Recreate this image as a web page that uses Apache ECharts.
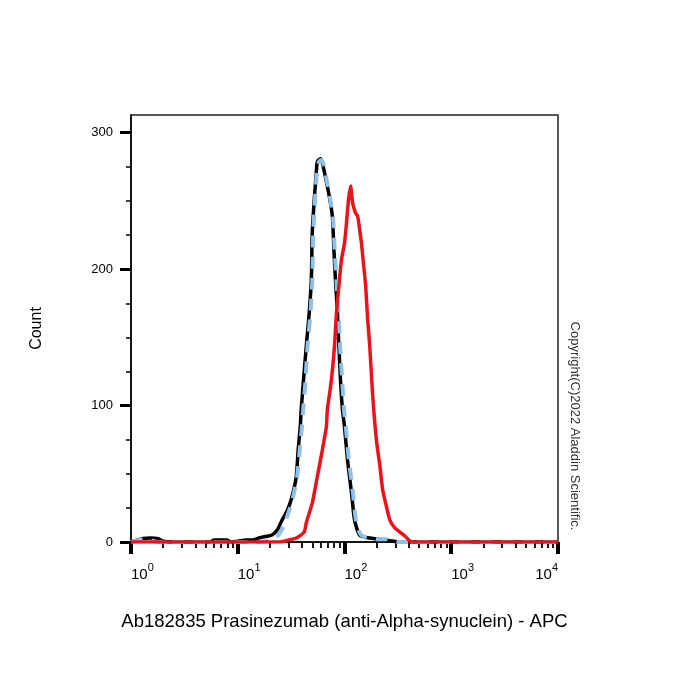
<!DOCTYPE html>
<html>
<head>
<meta charset="utf-8">
<script src="https://cdn.jsdelivr.net/npm/echarts@6/dist/echarts.min.js"></script>
<style>
  html, body { margin: 0; padding: 0; background: #fff; }
  #chart { width: 700px; height: 700px; }
</style>
</head>
<body>
<div id="chart"></div>
<script>
  // histogram curves: [fluorescence, count]
  const blackCurve = [
    [1, 0], [1.1, 1], [1.3, 2.5], [1.5, 3], [1.8, 2.5], [2.0, 0.5], [2.5, 0], [5.5, 0], [6, 1.5], [8, 1.5], [8.5, 0],
    [10, 0.5], [12, 1.5], [14, 1.5], [15.8, 2.9], [18, 4], [20.9, 5.1], [23.5, 9], [26, 16.1], [29, 23], [31.6, 30.8],
    [35.3, 47.7], [36.8, 67.5], [38.5, 84.4], [39.3, 96.8], [41.1, 116.6], [43.8, 143], [46.7, 168], [48.9, 192],
    [49.9, 226.7], [52.1, 250.9], [54.4, 270.7], [55.6, 278.8], [59.4, 281], [62, 278], [66.2, 267.7], [72.2, 253],
    [77, 238.5], [79.6, 214], [82.3, 192], [85.9, 168], [88.7, 143], [91.7, 118.8], [95.7, 96.8], [100, 84.4],
    [106.7, 60.1], [116.4, 35.9], [124.2, 16.1], [138.6, 5.1], [172, 2.9], [266, 1], [330, 0], [10000, 0]
  ];
  const blueCurve = [
    [1, 0], [1.2, 1.5], [1.4, 2], [1.6, 1], [1.8, 0], [15, 0], [18, 0.5], [21, 2], [24, 5], [27, 12], [30, 22],
    [33, 33], [36, 48], [38, 67], [40, 85], [41, 97], [43, 117], [45, 143], [48, 168], [50, 192], [51, 227],
    [53, 251], [55, 270], [57, 278], [60, 280], [63, 278], [67, 268], [73, 253], [78, 238], [81, 214], [84, 192],
    [88, 168], [91, 143], [95, 119], [99, 97], [103, 84], [110, 60], [120, 36], [128, 16], [140, 6], [160, 3],
    [200, 2], [250, 2], [290, 0.5], [320, 0], [10000, 0]
  ];
  const redCurve = [
    [1, 0], [25, 0], [30, 1.5], [35.3, 2.9], [41.9, 7.3], [43.8, 13.9], [49.9, 28.6], [55.6, 47.7], [62, 67.5],
    [67.6, 84.4], [69.1, 96.8], [75.4, 118.8], [80.5, 143], [84.1, 168], [89.7, 192], [93.7, 207], [100, 219],
    [104.4, 234], [109.1, 251], [113.9, 261], [119, 249], [127, 241], [132.7, 239], [138.6, 229], [144.7, 218],
    [151.1, 203], [157.8, 188], [164.8, 163], [172.1, 144.5], [179.8, 119], [187.8, 97], [200.4, 72.6],
    [214, 56.5], [228, 38.1], [249, 24.9], [266, 16.1], [296, 10.3], [330, 7.3], [368, 4.4], [410, 0.7],
    [450, 0], [10000, 0]
  ];

  const countTicks = [0, 100, 200, 300];
  const countMinorTicks = [25, 50, 75, 125, 150, 175, 225, 250, 275];
  const decadeMinorTicks = [2, 3, 4, 5, 6, 7, 8, 9];

  // minor log ticks, placed on a helper axis that runs in log10 space
  let logMinor = [];
  for (let d = 0; d < 4; d++) {
    decadeMinorTicks.forEach(k => logMinor.push(d + Math.log10(k)));
  }

  const font = 'Liberation Sans, Arial, sans-serif';
  const chart = echarts.init(document.getElementById('chart'));

  const option = {
    animation: false,
    grid: {
      left: 131, right: 142, top: 115, bottom: 158,
      show: true, borderColor: '#222', borderWidth: 1.5, backgroundColor: 'transparent'
    },
    xAxis: [{
      type: 'log', logBase: 10, min: 1, max: 10000,
      name: 'Ab182835 Prasinezumab (anti-Alpha-synuclein) - APC',
      nameLocation: 'middle', nameGap: 70,
      nameTextStyle: { fontSize: 18.5, color: '#000', fontFamily: font },
      axisLine: { onZero: false, lineStyle: { color: '#000', width: 1.5 } },
      axisTick: { length: 12, lineStyle: { color: '#000', width: 4 } },
      splitLine: { show: false },
      axisLabel: {
        margin: 20, align: 'left', alignMaxLabel: 'right',
        formatter: v => '{b|10}{s|' + Math.round(Math.log10(v)) + '}',
        rich: {
          b: { fontSize: 15, color: '#000', fontFamily: font, lineHeight: 20, verticalAlign: 'bottom' },
          s: { fontSize: 11, color: '#000', fontFamily: font, lineHeight: 20, verticalAlign: 'top', padding: [0, 0, 8, 0] }
        }
      }
    }, {
      type: 'value', min: 0, max: 4, position: 'bottom',
      axisLine: { show: false },
      axisLabel: { show: false },
      splitLine: { show: false },
      axisTick: { customValues: logMinor, length: 6, lineStyle: { color: '#000', width: 1.8 } }
    }],
    yAxis: [{
      type: 'value', min: 0, max: 313,
      name: 'Count', nameLocation: 'middle', nameGap: 86,
      nameTextStyle: { fontSize: 16, color: '#000', fontFamily: font },
      axisLine: { show: true, onZero: false, lineStyle: { color: '#000', width: 1.5 } },
      axisTick: { show: true, customValues: countTicks, length: 11, lineStyle: { color: '#000', width: 3 } },
      splitLine: { show: false },
      axisLabel: { customValues: countTicks, margin: 18, fontSize: 13, color: '#000', fontFamily: font }
    }, {
      type: 'value', min: 0, max: 313, position: 'left',
      axisLine: { show: false },
      axisLabel: { show: false },
      splitLine: { show: false },
      axisTick: { show: true, customValues: countMinorTicks, length: 5, lineStyle: { color: '#000', width: 1.5 } }
    }],
    series: [{
      type: 'line', data: blackCurve, showSymbol: false, smooth: 0.2,
      lineStyle: { color: '#000', width: 3.5 }
    }, {
      type: 'line', data: blueCurve, showSymbol: false, smooth: 0.2,
      lineStyle: { color: '#8ec1ea', width: 4, type: [12, 9] }
    }, {
      type: 'line', data: redCurve, showSymbol: false, smooth: 0.2,
      lineStyle: { color: '#e8141c', width: 3.5 }
    }],
    graphic: [{
      type: 'text', x: 575, y: 426, rotation: -Math.PI / 2,
      style: {
        text: 'Copyright(C)2022 Aladdin Scientific.', fontSize: 13, fontFamily: font,
        fill: '#333', align: 'center', verticalAlign: 'middle'
      }
    }]
  };
  chart.setOption(option);
</script>
</body>
</html>
